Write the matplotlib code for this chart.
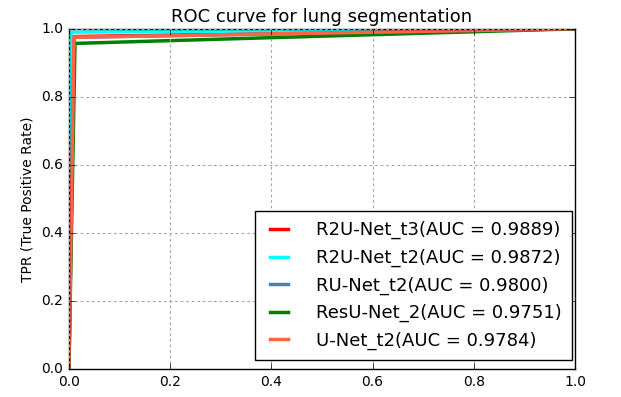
import numpy as np
import matplotlib
matplotlib.use('Agg')
import matplotlib.pyplot as plt

# ROC operating points (0,0) -> (fpr, tpr) -> (1,1)
models = ['R2U-Net_t3', 'R2U-Net_t2', 'RU-Net_t2', 'ResU-Net_2', 'U-Net_t2']
aucs = [0.9889, 0.9872, 0.9800, 0.9751, 0.9784]
fpr_mid = [0.008, 0.005, 0.010, 0.012, 0.010]
tpr_mid = [0.977, 0.990, 0.975, 0.957, 0.975]
colors = ['red', 'cyan', 'steelblue', 'green', 'tomato']

plt.style.use('classic')

fig = plt.figure(figsize=(6.21, 3.97), dpi=100, facecolor='white')
ax = fig.add_axes([0.111, 0.0705, 0.815, 0.857])

for name, auc, f, t, c in zip(models, aucs, fpr_mid, tpr_mid, colors):
    ax.plot([0.0, f, 1.0], [0.0, t, 1.0], color=c, lw=2.5,
            label='%s(AUC = %0.4f)' % (name, auc))

ax.set_xlim(0, 1)
ax.set_ylim(0, 1)
ax.set_xticks(np.arange(0, 1.01, 0.2))
ax.set_yticks(np.arange(0, 1.01, 0.2))
ax.tick_params(labelsize=10)
ax.grid(True, color='0.65', linestyle=(0, (2, 2)), linewidth=0.8)
ax.set_ylabel('TPR (True Positive Rate)', fontsize=10)
ax.set_title('ROC curve for lung segmentation', fontsize=13)
ax.legend(loc='lower right', bbox_to_anchor=(0.994, 0.0265), borderaxespad=0,
          fontsize=13, handlelength=1.6, handletextpad=1.25, borderpad=0.55,
          labelspacing=0.52)

fig.savefig('out.png', dpi=100, facecolor='white')
